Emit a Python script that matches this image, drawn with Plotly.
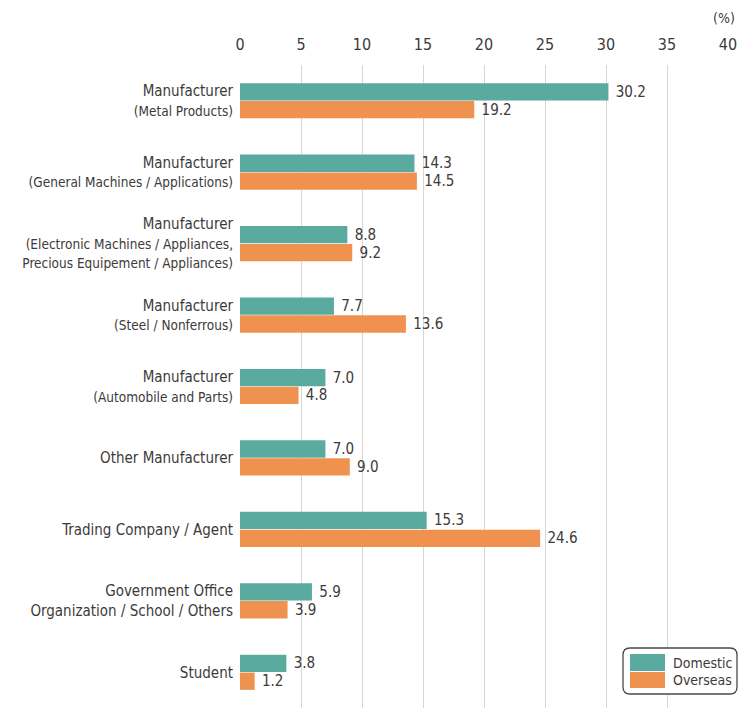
import plotly.graph_objects as go

categories = [
    "Manufacturer<br><span style='font-size:13.5px'>(Metal Products)</span>",
    "Manufacturer<br><span style='font-size:13.5px'>(General Machines / Applications)</span>",
    "Manufacturer<br><span style='font-size:13.5px'>(Electronic Machines / Appliances,</span><br><span style='font-size:13.5px'>Precious Equipement / Appliances)</span>",
    "Manufacturer<br><span style='font-size:13.5px'>(Steel / Nonferrous)</span>",
    "Manufacturer<br><span style='font-size:13.5px'>(Automobile and Parts)</span>",
    "Other Manufacturer",
    "Trading Company / Agent",
    "Government Office<br>Organization / School / Others",
    "Student",
]
domestic = [30.2, 14.3, 8.8, 7.7, 7.0, 7.0, 15.3, 5.9, 3.8]
overseas = [19.2, 14.5, 9.2, 13.6, 4.8, 9.0, 24.6, 3.9, 1.2]
x_ticks = [0, 5, 10, 15, 20, 25, 30, 35, 40]
series_names = ["Domestic", "Overseas"]
series_colors = ["#5BAAA0", "#F0924F"]

FONT = "DejaVu Sans Condensed, Roboto, Arial, sans-serif"
TXT = "#3d3a3a"
W, H = 738, 708
ML, MR, MT, MB = 240, 10, 65, 0
PW, PH = W - ML - MR, H - MT - MB


def px(x):
    return (x - ML) / PW


def py(y):
    return (H - MB - y) / PH


fig = go.Figure()
for name, vals, col in zip(series_names, [domestic, overseas], series_colors):
    fig.add_trace(go.Bar(
        y=categories, x=vals, orientation="h", name=name,
        marker=dict(color=col, line=dict(width=0)),
        text=["\u00a0" + f"{v:.1f}" for v in vals], textposition="outside",
        textfont=dict(size=16.5, color=TXT, family=FONT), cliponaxis=False,
    ))

# custom legend (rounded box with large swatches)
x0, x1, y0, y1, r = 623, 737, 648, 694, 7
path = (
    f"M {px(x0 + r)} {py(y0)} L {px(x1 - r)} {py(y0)} "
    f"Q {px(x1)} {py(y0)} {px(x1)} {py(y0 + r)} L {px(x1)} {py(y1 - r)} "
    f"Q {px(x1)} {py(y1)} {px(x1 - r)} {py(y1)} L {px(x0 + r)} {py(y1)} "
    f"Q {px(x0)} {py(y1)} {px(x0)} {py(y1 - r)} L {px(x0)} {py(y0 + r)} "
    f"Q {px(x0)} {py(y0)} {px(x0 + r)} {py(y0)} Z"
)
shapes = [dict(type="path", path=path, xref="paper", yref="paper",
               fillcolor="white", line=dict(color="#4a4a4a", width=1.3), layer="above")]
annotations = []
sw_rows = [(654, 671), (672, 688)]
for (sy0, sy1), name, col in zip(sw_rows, series_names, series_colors):
    shapes.append(dict(type="rect", xref="paper", yref="paper",
                       x0=px(630), x1=px(665), y0=py(sy1), y1=py(sy0),
                       fillcolor=col, line=dict(width=0), layer="above"))
    annotations.append(dict(text=name, xref="paper", yref="paper",
                            x=px(671), y=py((sy0 + sy1) / 2), xanchor="left", yanchor="middle",
                            showarrow=False, font=dict(size=14, color=TXT, family=FONT)))

annotations.append(dict(
    text="(%)", xref="paper", yref="paper", x=px(737), y=py(18),
    xanchor="right", yanchor="middle", showarrow=False,
    font=dict(size=14, color=TXT, family=FONT),
))

fig.update_layout(
    width=W, height=H,
    margin=dict(l=ML, r=MR, t=MT, b=MB, autoexpand=False),
    barmode="group", bargap=0.5, bargroupgap=0.03,
    plot_bgcolor="white", paper_bgcolor="white",
    font=dict(family=FONT, color=TXT, size=15),
    xaxis=dict(
        side="top", range=[0, 40], tickvals=x_ticks, ticktext=[str(t) for t in x_ticks],
        showgrid=True, gridcolor="#d6d6d6", gridwidth=1, zeroline=False,
        tickfont=dict(size=16, color=TXT, family=FONT), ticks="", ticklabelstandoff=11,
        showline=False, fixedrange=True, automargin=False,
    ),
    yaxis=dict(
        autorange="reversed", showgrid=False, zeroline=False, ticks="",
        tickfont=dict(size=15, color=TXT, family=FONT), ticklabelstandoff=6,
        automargin=False,
    ),
    showlegend=False,
    shapes=shapes,
    annotations=annotations,
)

fig.write_html(
    "out.html",
    config={"displayModeBar": False},
    post_script="document.body.style.margin='0';document.body.style.overflow='hidden';",
)
